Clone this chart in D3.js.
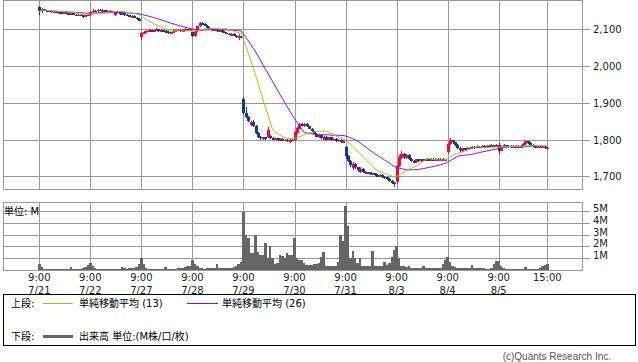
<!DOCTYPE html>
<html>
<head>
<meta charset="utf-8">
<script src="https://cdnjs.cloudflare.com/ajax/libs/d3/7.8.5/d3.min.js"></script>
<style>
body { margin: 0; background: #fff; }
text { font-family: "DejaVu Sans", "Noto Sans CJK JP", sans-serif; font-size: 10px; }
</style>
</head>
<body>
<div id="chart"></div>
<script>
// 15-minute bars, 21 per session (9:00 ... 14:45, 15:00)
var days = ["7/21", "7/22", "7/27", "7/28", "7/29", "7/30", "7/31", "8/3", "8/4", "8/5"];
var barsPerDay = 21;
var priceTicks = [1700, 1800, 1900, 2000, 2100];
var volTicks = [1, 2, 3, 4, 5];

var open = [
    2160,2149,2155,2152,2148,2150,2146,2148,2145,2146,2143,2146,2144,2140,2143,2140,2138,2140,2137,2135,2138,
    2140,2147,2151,2149,2153,2150,2152,2149,2151,2150,2140,2150,2146,2142,2144,2140,2138,2135,2136,2132,2128,
    2078,2090,2092,2096,2098,2094,2097,2100,2096,2098,2095,2093,2090,2092,2095,2097,2099,2096,2098,2100,2097,
    2092,2082,2095,2108,2116,2115,2110,2104,2102,2098,2100,2095,2097,2093,2091,2088,2086,2087,2083,2075,2080,
    1910,1872,1862,1840,1849,1838,1818,1808,1801,1806,1806,1810,1804,1801,1803,1799,1801,1797,1799,1793,1800,
    1798,1818,1830,1842,1836,1843,1836,1830,1822,1816,1806,1812,1800,1808,1800,1806,1798,1802,1796,1799,1793,
    1780,1755,1742,1722,1734,1724,1712,1720,1712,1708,1711,1706,1708,1703,1700,1703,1699,1697,1693,1688,1682,
    1684,1728,1750,1762,1750,1758,1748,1741,1738,1746,1742,1746,1744,1747,1744,1747,1744,1747,1744,1747,1744,
    1765,1788,1798,1792,1785,1778,1770,1776,1773,1778,1776,1780,1777,1781,1778,1782,1779,1783,1780,1784,1781,
    1786,1770,1780,1784,1780,1783,1780,1782,1779,1782,1780,1788,1795,1790,1786,1782,1779,1781,1778,1780,1777
];
var close = [
    2149,2155,2152,2148,2150,2146,2148,2145,2146,2143,2146,2144,2140,2143,2140,2138,2140,2137,2135,2138,2140,
    2147,2151,2149,2153,2150,2152,2149,2151,2150,2147,2150,2146,2142,2144,2140,2138,2135,2136,2132,2128,2126,
    2090,2092,2096,2098,2094,2097,2100,2096,2098,2095,2093,2090,2092,2095,2097,2099,2096,2098,2100,2097,2100,
    2082,2095,2108,2116,2115,2110,2104,2102,2098,2100,2095,2097,2093,2091,2088,2086,2087,2083,2080,2082,2078,
    1872,1862,1850,1849,1838,1818,1808,1803,1806,1802,1826,1804,1801,1803,1799,1801,1797,1799,1796,1800,1797,
    1820,1832,1842,1838,1843,1836,1830,1822,1816,1808,1812,1803,1808,1800,1806,1798,1802,1796,1799,1793,1796,
    1755,1742,1730,1734,1724,1716,1720,1712,1708,1711,1706,1708,1703,1700,1703,1699,1697,1693,1688,1682,1679,
    1728,1752,1762,1752,1758,1748,1741,1738,1746,1742,1746,1744,1747,1744,1747,1744,1747,1744,1747,1744,1746,
    1788,1798,1792,1785,1778,1772,1776,1773,1778,1776,1780,1777,1781,1778,1782,1779,1783,1780,1784,1781,1785,
    1770,1780,1784,1780,1783,1780,1782,1779,1782,1780,1788,1795,1790,1786,1782,1779,1781,1778,1780,1777,1778
];
var high = [
    2164,2158,2156,2153,2152,2151,2149,2149,2148,2147,2147,2147,2145,2144,2144,2141,2141,2141,2138,2139,2142,
    2149,2154,2153,2156,2154,2154,2153,2152,2152,2151,2151,2151,2147,2146,2148,2142,2140,2138,2138,2134,2130,
    2093,2095,2099,2101,2099,2099,2103,2101,2100,2099,2097,2095,2094,2097,2099,2102,2100,2100,2103,2101,2102,
    2094,2097,2110,2119,2119,2116,2111,2106,2104,2101,2101,2099,2098,2095,2093,2090,2089,2089,2085,2086,2082,
    1915,1888,1865,1851,1852,1840,1820,1810,1808,1808,1833,1812,1806,1805,1805,1803,1803,1801,1801,1802,1802,
    1823,1835,1846,1846,1846,1845,1838,1832,1824,1818,1814,1814,1810,1810,1808,1808,1804,1804,1801,1801,1798,
    1782,1758,1745,1738,1736,1726,1724,1722,1714,1713,1713,1710,1710,1705,1705,1705,1701,1699,1695,1690,1684,
    1730,1758,1768,1764,1761,1760,1750,1743,1748,1748,1748,1746,1749,1749,1749,1749,1749,1749,1749,1749,1748,
    1790,1803,1800,1794,1787,1780,1778,1778,1780,1781,1783,1782,1784,1783,1785,1784,1786,1785,1787,1786,1788,
    1790,1782,1787,1786,1785,1785,1784,1784,1784,1784,1790,1797,1797,1792,1788,1784,1783,1783,1782,1782,1780
];
var low = [
    2138,2145,2150,2146,2146,2145,2145,2143,2144,2141,2142,2142,2138,2139,2138,2136,2136,2135,2132,2133,2136,
    2137,2145,2147,2148,2149,2149,2147,2148,2148,2146,2136,2145,2140,2141,2136,2136,2133,2133,2130,2126,2123,
    2072,2086,2090,2094,2092,2092,2096,2094,2094,2093,2090,2088,2088,2090,2094,2095,2094,2095,2097,2095,2096,
    2078,2080,2093,2106,2112,2108,2102,2100,2096,2096,2093,2093,2091,2089,2086,2084,2084,2081,2077,2072,2075,
    1866,1858,1848,1838,1835,1815,1805,1800,1799,1800,1804,1801,1798,1798,1797,1797,1795,1795,1794,1791,1795,
    1796,1815,1828,1836,1834,1833,1828,1820,1814,1806,1804,1801,1798,1798,1798,1796,1796,1794,1794,1790,1791,
    1748,1738,1726,1716,1720,1712,1708,1708,1705,1705,1703,1703,1700,1698,1698,1696,1694,1690,1685,1678,1672,
    1680,1725,1746,1748,1747,1745,1738,1735,1736,1740,1740,1742,1742,1742,1742,1742,1742,1742,1742,1742,1742,
    1762,1785,1788,1782,1775,1766,1767,1770,1771,1774,1774,1775,1776,1776,1777,1777,1778,1778,1779,1779,1780,
    1760,1768,1778,1778,1778,1778,1778,1777,1777,1778,1779,1786,1788,1784,1780,1777,1777,1776,1776,1775,1775
];
// volume, millions of shares
var volume = [
    0.5,0.28,0.12,0.1,0.08,0.1,0.08,0.1,0.08,0.1,0.07,0.06,0.1,0.23,0.12,0.1,0.1,0.12,0.14,0.25,0.4,
    0.62,0.3,0.15,0.12,0.1,0.1,0.12,0.1,0.08,0.1,0.12,0.1,0.1,0.23,0.14,0.12,0.14,0.14,0.2,0.28,0.5,
    1.0,0.55,0.2,0.12,0.1,0.1,0.1,0.12,0.1,0.1,0.28,0.12,0.1,0.12,0.1,0.14,0.16,0.2,0.25,0.3,0.35,
    0.85,0.5,0.3,0.2,0.15,0.12,0.2,0.15,0.2,0.15,0.5,0.2,0.2,0.15,0.18,0.2,0.2,0.25,0.35,0.5,0.7,
    4.9,3.0,2.7,1.45,1.45,3.0,1.5,1.3,1.3,2.26,1.0,2.0,1.0,0.55,0.6,1.27,1.2,1.0,1.45,1.3,1.27,
    2.7,1.0,0.85,0.85,0.6,0.4,0.4,0.4,0.55,0.5,0.6,1.1,1.5,0.3,0.3,0.3,0.3,0.35,0.7,3.0,2.5,
    5.4,3.7,1.0,1.6,1.0,0.6,1.0,0.35,0.3,0.3,0.3,1.6,0.3,0.35,0.3,0.35,0.7,0.4,0.6,1.1,1.7,
    2.06,1.0,0.3,0.3,0.25,0.3,0.2,0.2,0.2,0.2,0.2,0.35,0.15,0.15,0.15,0.15,0.15,0.15,0.2,0.55,0.85,
    1.1,0.7,0.3,0.25,0.2,0.2,0.2,0.2,0.2,0.2,0.4,0.15,0.15,0.15,0.15,0.15,0.12,0.12,0.2,0.5,0.75,
    0.77,0.3,0.15,0.12,0.12,0.12,0.12,0.12,0.12,0.12,0.12,0.25,0.12,0.12,0.12,0.12,0.12,0.15,0.3,0.45,0.55
];

var W = 638, H = 362;
var left = 3.5, right = 582.5;
var pTop = 0.5, pBot = 189.5;
var vTop = 202.5, vBot = 270;
var gridColor = "#999";
var upColor = "#ff0040", downColor = "#0a3a9e";

var svg = d3.select("#chart").append("svg")
    .attr("width", W)
    .attr("height", H);
svg.append("rect").attr("width", W).attr("height", H).attr("fill", "#fff");

var n = close.length;
// last session ends at bar 20 (15:00)
var x = d3.scaleLinear().domain([0, (days.length - 1) * barsPerDay + 20]).range([39.3, 547.3]);
var y = d3.scaleLinear().domain([1700, 2100]).range([176.3, 29.3]);
var yv = d3.scaleLinear().domain([0, 5]).range([vBot, 211]);

function sma(k) {
    var out = [];
    for (var i = 0; i < n; i++) {
	var s = 0, c = 0;
	for (var j = Math.max(0, i - k + 1); j <= i; j++) { s += close[j]; c++; }
	out.push(s / c);
    }
    return out;
}

var vlines = d3.range(days.length).map(function(d) { return d * barsPerDay; });
vlines.push((days.length - 1) * barsPerDay + 20);

// ---- grids
var grid = svg.append("g")
    .attr("stroke", gridColor)
    .attr("stroke-width", 1)
    .attr("shape-rendering", "crispEdges");

grid.selectAll("line.h").data(priceTicks).enter().append("line")
    .attr("x1", left).attr("x2", right + 7)
    .attr("y1", function(d) { return Math.round(y(d)) + 0.5; })
    .attr("y2", function(d) { return Math.round(y(d)) + 0.5; });
grid.selectAll("line.vh").data(volTicks).enter().append("line")
    .attr("x1", left).attr("x2", right + 7)
    .attr("y1", function(d) { return Math.round(yv(d)) + 0.5; })
    .attr("y2", function(d) { return Math.round(yv(d)) + 0.5; });
grid.selectAll("line.v1").data(vlines).enter().append("line")
    .attr("x1", function(d) { return Math.round(x(d)) + 0.5; })
    .attr("x2", function(d) { return Math.round(x(d)) + 0.5; })
    .attr("y1", pTop).attr("y2", pBot);
grid.selectAll("line.v2").data(vlines).enter().append("line")
    .attr("x1", function(d) { return Math.round(x(d)) + 0.5; })
    .attr("x2", function(d) { return Math.round(x(d)) + 0.5; })
    .attr("y1", vTop).attr("y2", vBot);

grid.append("rect").attr("x", left).attr("y", pTop)
    .attr("width", right - left).attr("height", pBot - pTop).attr("fill", "none");
grid.append("rect").attr("x", left).attr("y", vTop)
    .attr("width", right - left).attr("height", vBot - vTop).attr("fill", "none");

// ---- right axes labels
svg.selectAll("text.py").data(priceTicks).enter().append("text")
    .attr("x", 593).attr("y", function(d) { return y(d) + 4; })
    .attr("fill", "#222")
    .text(d3.format(","));
svg.selectAll("text.vy").data(volTicks).enter().append("text")
    .attr("x", 593).attr("y", function(d) { return yv(d) + 1; })
    .attr("fill", "#222")
    .text(function(d) { return d + "M"; });

// ---- volume
var bw = x(1) - x(0);
svg.append("g").attr("shape-rendering", "crispEdges")
    .selectAll("rect").data(volume).enter().append("rect")
    .attr("x", function(d, i) { return x(i) - bw / 2; })
    .attr("y", function(d) { return yv(d); })
    .attr("width", bw)
    .attr("height", function(d) { return vBot - yv(d); })
    .attr("fill", "#666");

svg.append("text").attr("x", 4).attr("y", 215).attr("fill", "#000").text("単位: M");

// ---- candles
var candles = svg.append("g").attr("shape-rendering", "crispEdges")
    .selectAll("g").data(close).enter().append("g");
function col(i) { return close[i] >= open[i] ? upColor : downColor; }
candles.append("line")
    .attr("x1", function(d, i) { return Math.round(x(i)) + 0.5; })
    .attr("x2", function(d, i) { return Math.round(x(i)) + 0.5; })
    .attr("y1", function(d, i) { return y(high[i]); })
    .attr("y2", function(d, i) { return y(low[i]); })
    .attr("stroke", function(d, i) { return col(i); });
candles.append("rect")
    .attr("x", function(d, i) { return Math.round(x(i)) - 1; })
    .attr("width", 3)
    .attr("y", function(d, i) { return y(Math.max(open[i], close[i])); })
    .attr("height", function(d, i) { return Math.max(1.5, Math.abs(y(open[i]) - y(close[i]))); })
    .attr("fill", function(d, i) { return col(i); });

// ---- moving averages
var maLine = d3.line()
    .x(function(d, i) { return x(i); })
    .y(function(d) { return y(d); });
svg.append("path").datum(sma(26)).attr("d", maLine)
    .attr("fill", "none").attr("stroke", "#9900ff").attr("stroke-width", 1);
svg.append("path").datum(sma(13)).attr("d", maLine)
    .attr("fill", "none").attr("stroke", "#99cc00").attr("stroke-width", 1);

// ---- x labels
var xl = svg.append("g").attr("text-anchor", "middle").attr("fill", "#222");
xl.selectAll("text.t").data(vlines).enter().append("text")
    .attr("x", function(d) { return x(d); })
    .attr("y", 281)
    .text(function(d, i) { return i < days.length ? "9:00" : "15:00"; });
xl.selectAll("text.d").data(days).enter().append("text")
    .attr("x", function(d, i) { return x(i * barsPerDay); })
    .attr("y", 294)
    .text(function(d) { return d; });

// ---- legend
var lg = svg.append("g");
lg.append("rect").attr("x", 3.5).attr("y", 294.5).attr("width", 632).attr("height", 51)
    .attr("fill", "#fff").attr("stroke", "#000").attr("shape-rendering", "crispEdges");
lg.append("text").attr("x", 11).attr("y", 307).text("上段:");
lg.append("line").attr("x1", 43).attr("x2", 73).attr("y1", 303.5).attr("y2", 303.5)
    .attr("stroke", "#99cc00");
lg.append("text").attr("x", 79).attr("y", 307).text("単純移動平均 (13)");
lg.append("line").attr("x1", 187).attr("x2", 218).attr("y1", 303.5).attr("y2", 303.5)
    .attr("stroke", "#9900ff");
lg.append("text").attr("x", 222).attr("y", 307).text("単純移動平均 (26)");
lg.append("text").attr("x", 11).attr("y", 340).text("下段:");
lg.append("line").attr("x1", 43).attr("x2", 73).attr("y1", 336.5).attr("y2", 336.5)
    .attr("stroke", "#666").attr("stroke-width", 3);
lg.append("text").attr("x", 79).attr("y", 340).text("出来高 単位:(M株/口/枚)");

svg.append("text").attr("x", 611).attr("y", 360)
    .attr("text-anchor", "end")
    .attr("fill", "#555")
    .style("font-family", "'Liberation Sans Narrow', 'Liberation Sans', sans-serif")
    .style("font-size", "10px")
    .text("(c)Quants Research Inc.");
</script>
</body>
</html>
